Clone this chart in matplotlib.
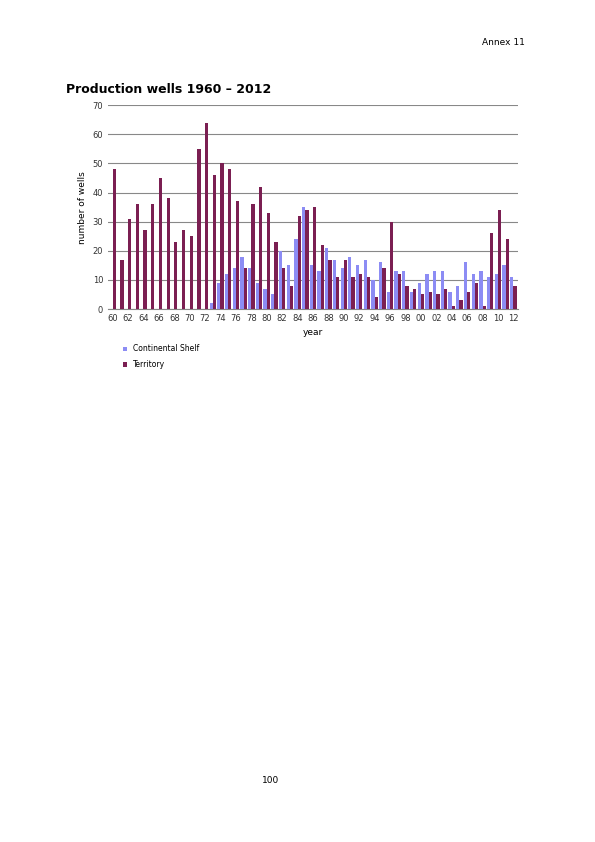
import numpy as np
import matplotlib.pyplot as plt

years = list(range(1960, 2013))
territory = [48, 17, 31, 36, 27, 36, 45, 38, 23, 27, 25, 55, 64,
             46, 50, 48, 37, 14, 36, 42, 33, 23, 14, 8, 32, 34, 35,
             22, 17, 11, 17, 11, 12, 11, 4, 14, 30, 12, 8, 7, 5, 6, 5,
             7, 1, 3, 6, 9, 1, 26, 34, 24, 8]
shelf = [0] * 13 + [2, 9, 12, 14, 18, 14, 9, 7, 5, 20, 15, 24, 35, 15,
                    13, 21, 17, 14, 18, 15, 17, 10, 16, 6, 13, 13, 6, 9, 12, 13,
                    13, 6, 8, 16, 12, 13, 11, 12, 15, 11]

fig = plt.figure(figsize=(5.95, 8.42), dpi=100)
ax = fig.add_axes([0.1815, 0.633, 0.689, 0.242])

x = np.arange(len(years))
w = 0.42
ax.bar(x - w / 2, shelf, w, color='#8c8cf4', label='Continental Shelf', zorder=3)
ax.bar(x + w / 2, territory, w, color='#7b1f52', label='Territory', zorder=3)

ax.set_ylim(0, 70)
ax.set_yticks(range(0, 71, 10))
ax.set_xlim(-0.6, len(years) - 0.4)
ax.set_xticks(x[::2])
ax.set_xticklabels([f'{y % 100:02d}' for y in years[::2]])
ax.tick_params(labelsize=6, length=0, colors='#333333')
ax.grid(axis='y', color='#888888', linewidth=0.8, zorder=0)
for s in ['top', 'right', 'left']:
    ax.spines[s].set_visible(False)
ax.spines['bottom'].set_color('#888888')
ax.set_xlabel('year', fontsize=6.5)
ax.set_ylabel('number of wells', fontsize=6.5)

ax.legend(loc='upper left', bbox_to_anchor=(0.02, -0.14), frameon=False,
          fontsize=5.5, handlelength=0.5, handleheight=0.5, labelspacing=0.9)

fig.text(0.882, 0.946, 'Annex 11', fontsize=6.5, ha='right')
fig.text(0.111, 0.89, 'Production wells 1960 \u2013 2012', fontsize=9, weight='bold')
fig.text(0.455, 0.07, '100', fontsize=6.5, ha='center')

fig.savefig('out.png', dpi=100)
